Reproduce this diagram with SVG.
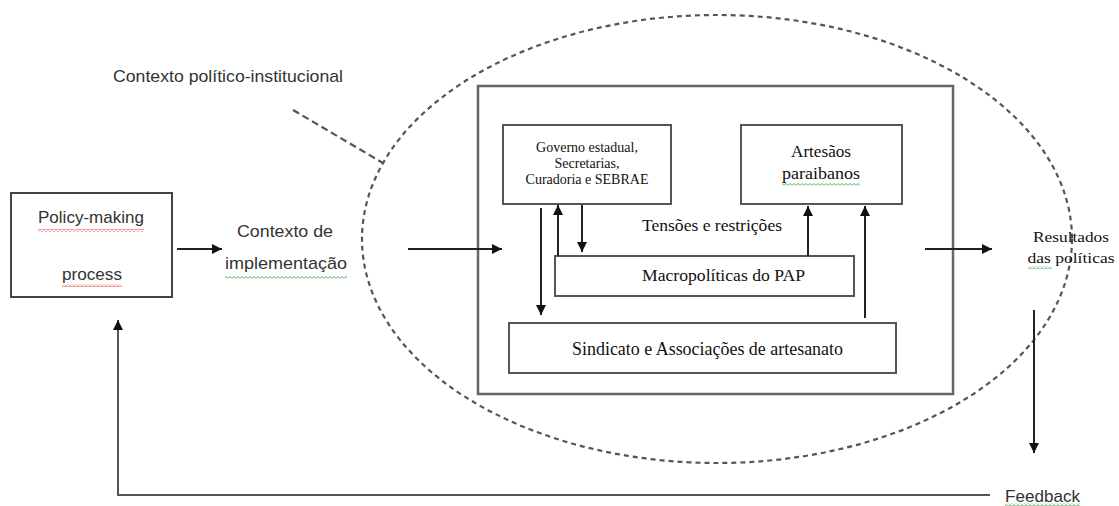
<svg xmlns="http://www.w3.org/2000/svg" width="1119" height="506" viewBox="0 0 1119 506">
<style>
.box{fill:#fff;stroke:#555;stroke-width:2}
.big{fill:none;stroke:#666;stroke-width:2.5}
.conn{fill:none;stroke:#222;stroke-width:2}
.dash{fill:none;stroke:#555;stroke-width:2.2;stroke-dasharray:5 4}
.sans{font-family:"Liberation Sans",Arial,sans-serif;fill:#333;font-size:17px}
.serif{font-family:"Liberation Serif","Times New Roman",serif;fill:#111}
</style>
<defs>
<marker id="ah" viewBox="0 0 10 10" refX="10" refY="5" markerWidth="11" markerHeight="10" markerUnits="userSpaceOnUse" orient="auto">
<path d="M0,0 L10,5 L0,10 z" fill="#111"/>
</marker>
<pattern id="wavyR" width="4" height="3" patternUnits="userSpaceOnUse">
<path d="M0,2.5 L2,0.5 L4,2.5" fill="none" stroke="#e03030" stroke-width="0.9"/>
</pattern>
<pattern id="wavyG" width="4" height="3" patternUnits="userSpaceOnUse">
<path d="M0,2.5 L2,0.5 L4,2.5" fill="none" stroke="#3aa040" stroke-width="0.9"/>
</pattern>
</defs>
<rect width="1119" height="506" fill="#fff"/>

<g id="context-ellipse">
<ellipse class="dash" cx="717" cy="239" rx="355" ry="224"/>
<path class="dash" d="M293,110 L383,163" style="stroke-dasharray:7 4"/>
<text class="sans" x="113" y="82" textLength="230" lengthAdjust="spacingAndGlyphs">Contexto político-institucional</text>
</g>

<g id="inner-frame">
<rect class="big" x="478" y="86" width="475" height="308"/>
</g>

<g id="policy-making">
<rect class="box" x="11" y="193" width="161" height="104" style="stroke:#444"/>
<text class="sans" x="38" y="223" textLength="106" lengthAdjust="spacingAndGlyphs">Policy-making</text>
<rect x="38" y="229" width="106" height="3" fill="url(#wavyR)"/>
<text class="sans" x="62" y="280" textLength="60" lengthAdjust="spacingAndGlyphs">process</text>
<rect x="62" y="284" width="60" height="3" fill="url(#wavyR)"/>
</g>

<g id="contexto-implementacao">
<text class="sans" x="237" y="237" textLength="96" lengthAdjust="spacingAndGlyphs">Contexto de</text>
<text class="sans" x="225" y="269" textLength="122" lengthAdjust="spacingAndGlyphs">implementação</text>
<rect x="225" y="276" width="122" height="3" fill="url(#wavyG)"/>
</g>

<g id="governo">
<rect class="box" x="503" y="125" width="168" height="79"/>
<text class="serif" font-size="14" text-anchor="middle" x="587" y="152">Governo estadual,</text>
<text class="serif" font-size="14" text-anchor="middle" x="587" y="168">Secretarias,</text>
<text class="serif" font-size="14" text-anchor="middle" x="587" y="184">Curadoria e SEBRAE</text>
</g>

<g id="artesaos">
<rect class="box" x="741" y="125" width="161" height="79"/>
<text class="serif" font-size="17" text-anchor="middle" x="821" y="157" textLength="60" lengthAdjust="spacingAndGlyphs">Artesãos</text>
<text class="serif" font-size="17" text-anchor="middle" x="821" y="179" textLength="78" lengthAdjust="spacingAndGlyphs">paraibanos</text>
<rect x="782" y="183" width="78" height="3" fill="url(#wavyG)"/>
</g>

<g id="tensoes">
<text class="serif" font-size="17" x="642" y="231" textLength="140" lengthAdjust="spacingAndGlyphs">Tensões e restrições</text>
</g>

<g id="macropoliticas">
<rect class="box" x="555" y="256" width="299" height="40"/>
<text class="serif" font-size="17.5" x="642" y="281" textLength="163" lengthAdjust="spacingAndGlyphs">Macropolíticas do PAP</text>
</g>

<g id="sindicato">
<rect class="box" x="509" y="323" width="387" height="50"/>
<text class="serif" font-size="18" x="572" y="355" textLength="271" lengthAdjust="spacingAndGlyphs">Sindicato e Associações de artesanato</text>
</g>

<g id="resultados">
<text class="serif" font-size="15" text-anchor="middle" x="1071" y="242" textLength="76" lengthAdjust="spacingAndGlyphs">Resultados</text>
<text class="serif" font-size="15" text-anchor="middle" x="1071" y="263" textLength="87" lengthAdjust="spacingAndGlyphs">das políticas</text>
<rect x="1028" y="266" width="24" height="3" fill="url(#wavyG)"/>
</g>

<g id="feedback">
<text class="sans" x="1005" y="502" textLength="75" lengthAdjust="spacingAndGlyphs">Feedback</text>
<rect x="1005" y="503" width="75" height="3" fill="url(#wavyG)"/>
</g>

<g id="connectors">
<path class="conn" d="M177,249 H222" marker-end="url(#ah)"/>
<path class="conn" d="M408,249 H502" marker-end="url(#ah)"/>
<path class="conn" d="M541,208 V315" marker-end="url(#ah)"/>
<path class="conn" d="M558,256 V205" marker-end="url(#ah)"/>
<path class="conn" d="M582,205 V252" marker-end="url(#ah)"/>
<path class="conn" d="M808,256 V206" marker-end="url(#ah)"/>
<path class="conn" d="M865,318 V206" marker-end="url(#ah)"/>
<path class="conn" d="M925,249 H992" marker-end="url(#ah)"/>
<path class="conn" d="M1034,310 V453" marker-end="url(#ah)"/>
<path class="conn" d="M990,495 H118 V320" style="stroke:#555" marker-end="url(#ah)"/>
</g>
</svg>
